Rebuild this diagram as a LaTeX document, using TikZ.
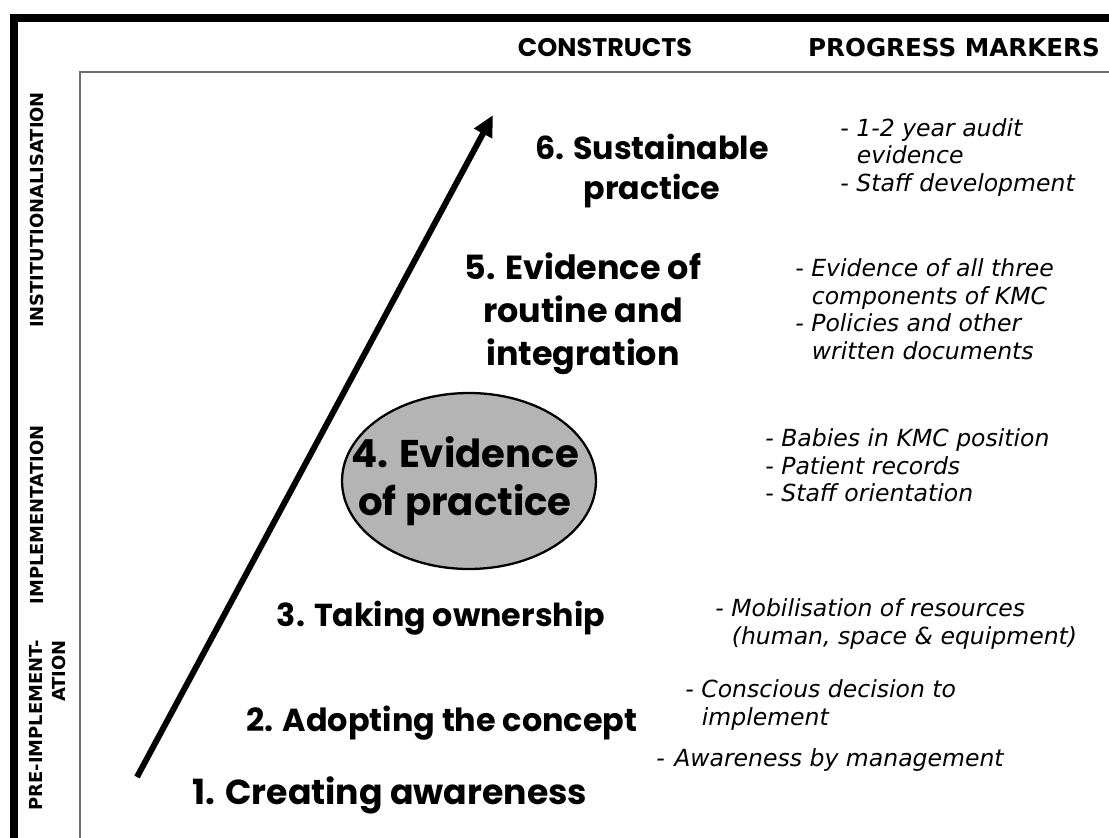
\documentclass[tikz,border=0pt]{standalone}
\usepackage{fontspec}
\setmainfont{Poppins}
\newfontfamily\markerfont{DejaVu Sans}
\newfontfamily\headfont{DejaVu Sans}
\usetikzlibrary{arrows.meta,shapes.geometric}
\definecolor{kmc_grey}{HTML}{B4B4B4}
\definecolor{kmc_frame}{HTML}{6E6E6E}

\tikzset{
  construct/.style={font=\fontsize{19}{24.5}\selectfont\bfseries, align=center, inner sep=0pt},
  marker/.style={font=\fontsize{13.4}{15.8}\selectfont\markerfont\itshape, align=left, anchor=north west, inner sep=0pt},
  phase/.style={font=\fontsize{10.2}{13}\selectfont\headfont\bfseries, rotate=90, inner sep=0pt},
  header/.style={font=\fontsize{14}{16}\selectfont\headfont\bfseries, inner sep=0pt}
}

\begin{document}
\begin{tikzpicture}[x=0.02cm, y=-0.02cm]
        \useasboundingbox (0,0) rectangle (1109,838);

        % frames
        \draw [line width=5pt] (1115,18) -| (14,845);
        \draw [kmc_frame, line width=0.8pt] (1115,72) -| (80,845);

        % column headers
        \node[header, font=\fontsize{14.5}{16}\selectfont\bfseries] (hconstr) at (605,48) {CONSTRUCTS};
        \node[header] (hmark) at (954,48) {PROGRESS MARKERS};

        % phases
        \node[phase] (pinst) at (37,210) {INSTITUTIONALISATION};
        \node[phase] (pimpl) at (37,515) {IMPLEMENTATION};
        \node[phase, align=right, anchor=east] (ppre) at (48,640) {PRE-IMPLEMENT-\\ATION};

        % direction of progress
        \coordinate (start) at (137,777);
        \coordinate (stop) at (493,115);
        \draw [line width=3.4pt, -{Triangle[length=12pt, width=11pt]}] (start) -- (stop);

        % constructs
        \node[construct, scale=1.04] (c1) at (390,795) {1. Creating awareness};
        \node[construct, scale=0.955] (c2) at (442,723) {2. Adopting the concept};
        \node[construct, scale=0.95] (c3) at (441,618) {3. Taking ownership};
        \node[ellipse, draw, line width=1.3pt, fill=kmc_grey, minimum width=5.08cm, minimum height=3.52cm] (ell) at (469,481) {};
        \node[construct, font=\fontsize{22}{27}\selectfont\bfseries] (c4) at (465,481) {4. Evidence\\of practice};
        \node[construct] (c5) at (583,314) {5. Evidence of\\routine and\\integration};
        \node[construct, scale=0.95] (c6) at (652,171) {6. Sustainable\\practice};

        % progress markers
        \node[marker] (m6) at (840,118) {- 1-2 year audit\\\hspace*{0.7em}evidence\\- Staff development};
        \node[marker] (m5) at (795,258) {- Evidence of all three\\\hspace*{0.7em}components of KMC\\- Policies and other\\\hspace*{0.7em}written documents};
        \node[marker] (m4) at (765,428) {- Babies in KMC position\\- Patient records\\- Staff orientation};
        \node[marker] (m3) at (715,598) {- Mobilisation of resources\\\hspace*{0.7em}(human, space \& equipment)};
        \node[marker] (m2) at (685,679) {- Conscious decision to\\\hspace*{0.7em}implement};
        \node[marker] (m1) at (656,748) {-\hspace*{0.4em}Awareness by management};

\end{tikzpicture}
\end{document}
